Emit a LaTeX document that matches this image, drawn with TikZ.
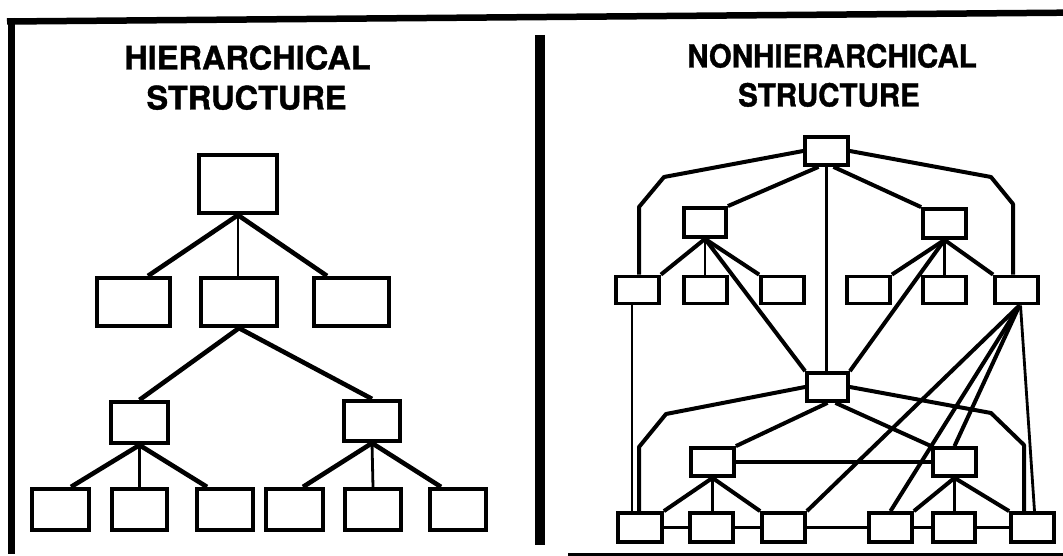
\documentclass[tikz,border=0pt]{standalone}
\usepackage{fontspec}
\setmainfont{TeX Gyre Heros}
\newfontfamily\ttlfont{TeX Gyre Heros}[BoldFeatures={FakeBold=1.2}]
\usetikzlibrary{calc}
\begin{document}
\begin{tikzpicture}[x=1pt,y=-1pt,
  bx/.style 2 args={draw, line width=4.2pt, inner sep=0pt, minimum width=#1, minimum height=#2},
  rb/.style 2 args={draw, line width=3.8pt, inner sep=0pt, minimum width=#1, minimum height=#2},
  thk/.style={line width=4.6pt, line join=round},
  rk/.style={line width=4pt, line join=round},
  thn/.style={line width=2.8pt},
  mid/.style={line width=3.3pt},
  ttl/.style={inner sep=0pt, font=\fontsize{32.5}{36}\ttlfont\bfseries},
  ttlr/.style={inner sep=0pt, font=\fontsize{29.5}{34}\ttlfont\bfseries}]
\useasboundingbox (0,0) rectangle (1063,556);

% frame
\draw[line width=6.5pt] (7,21.5) -- (1063,12.7);
\draw[line width=7pt] (11,18) -- (11,554);
\draw[line width=10pt] (540,35) -- (540,545);
\draw[line width=4pt] (568,555) -- (1063,555);

% titles
\node[ttl, anchor=base] (t1) at (247.5,69.5) {HIERARCHICAL};
\node[ttl, anchor=base] (t2) at (246.5,109.5) {STRUCTURE};
\node[ttlr, anchor=base] (t3) at (832,67.5) {\scalebox{1}[1.08]{NONHIERARCHICAL}};
\node[ttlr, anchor=base] (t4) at (829,106.5) {\scalebox{1}[1.08]{STRUCTURE}};

% ---------- hierarchical ----------
\node[bx={78pt}{58pt}] (h0) at (238,184) {};
\node[bx={73pt}{48pt}] (h1) at (133.5,302) {};
\node[bx={76pt}{48pt}] (h2) at (239,302) {};
\node[bx={75pt}{48pt}] (h3) at (351.5,302) {};
\node[bx={57pt}{41pt}] (h4) at (139.5,422.5) {};
\node[bx={56pt}{40pt}] (h5) at (372,421) {};
\node[bx={57pt}{41pt}] (h6) at (60.5,509.5) {};
\node[bx={55pt}{41pt}] (h7) at (139.5,509.5) {};
\node[bx={56pt}{41pt}] (h8) at (225,509.5) {};
\node[bx={57pt}{41pt}] (h9) at (294.5,509.5) {};
\node[bx={56pt}{41pt}] (h10) at (373,509.5) {};
\node[bx={56pt}{41pt}] (h11) at (458,509.5) {};

\draw[thk] (h0.south) -- ($(h1.north)+(14.5,0)$);
\draw[thn] (h0.south) -- (h0.south |- h2.north);
\draw[thk] (h0.south) -- ($(h3.north)+(-24.5,0)$);
\draw[thk] (h2.south) -- (h4.north);
\draw[thk] (h2.south) -- (h5.north);
\draw[thk] (h4.south) -- ($(h6.north)+(10.5,0)$);
\draw[thn] (h4.south) -- (h7.north);
\draw[thk] (h4.south) -- ($(h8.north)+(-18,0)$);
\draw[thk] (h5.south) -- ($(h9.north)+(8.5,0)$);
\draw[thn] (h5.south) -- (h10.north);
\draw[thk] (h5.south) -- ($(h11.north)+(-17,0)$);

% ---------- nonhierarchical ----------
\node[rb={43pt}{28pt}] (T) at (826.5,151) {};
\node[rb={42pt}{29pt}] (A) at (705,222.5) {};
\node[rb={43pt}{29pt}] (B) at (944.5,223.5) {};
\node[rb={43pt}{27pt}] (c1) at (637.5,290) {};
\node[rb={43pt}{27pt}] (c2) at (705.5,290) {};
\node[rb={43pt}{27pt}] (c3) at (782.5,290) {};
\node[rb={43pt}{27pt}] (c4) at (868.5,290) {};
\node[rb={43pt}{27pt}] (c5) at (944.5,290) {};
\node[rb={43pt}{27pt}] (c6) at (1016.5,290) {};
\node[rb={41pt}{28pt}] (M) at (827.5,387) {};
\node[rb={43pt}{28pt}] (D) at (712.5,462) {};
\node[rb={43pt}{28pt}] (E) at (954.5,462) {};
\node[rb={44pt}{29pt}] (d1) at (640,527.5) {};
\node[rb={43pt}{29pt}] (d2) at (711.5,527.5) {};
\node[rb={43pt}{29pt}] (d3) at (783.5,527.5) {};
\node[rb={43pt}{29pt}] (d4) at (890.5,527.5) {};
\node[rb={42pt}{29pt}] (d5) at (954,527.5) {};
\node[rb={43pt}{29pt}] (d6) at (1032.5,527.5) {};

\coordinate (ol1) at (664,177);
\coordinate (ol2) at (639,207);
\coordinate (or1) at (991,177);
\coordinate (or2) at (1013,204);
\coordinate (ml1) at (666,414);
\coordinate (ml2) at (639,447);
\coordinate (mr1) at (991,413);
\coordinate (mr2) at (1024,445);
\coordinate (c1s) at ($(c1.south)+(-5.5,0)$);
\coordinate (c6s) at ($(c6.south)+(3,0)$);

% outer paths
\draw[rk] (T.west) -- (ol1) -- (ol2) -- (ol2 |- c1.north);
\draw[rk] (T.east) -- (or1) -- (or2) -- (or2 |- c6.north);
\draw[rk] (M.west) -- (ml1) -- (ml2) -- (ml2 |- d1.north);
\draw[rk] (M.east) -- (mr1) -- (mr2) -- (mr2 |- d6.north);

% top level
\draw[rk] ($(T.south)+(-8,0)$) -- (A.north east);
\draw[rk] ($(T.south)+(7,0)$) -- (B.north west);
\draw[thn] (T.south) -- (T.south |- M.north);

% A and B children
\draw[rk] (A.south) -- (c1.north east);
\draw[thn] (A.south) -- (A.south |- c2.north);
\draw[rk] (A.south) -- (c3.north west);
\draw[rk] (A.south) -- (M.north west);
\draw[rk] (B.south) -- (c4.north east);
\draw[thn] (B.south) -- (B.south |- c5.north);
\draw[rk] (B.south) -- (c6.north west);
\draw[rk] (B.south) -- (M.north east);

% long verticals
\draw[thn] (c1s) -- (c1s |- d1.north);
\draw[thn] ($(c6.south)+(4,0)$) -- ($(d6.north)+(2,0)$);

% M children
\draw[rk] (M.south) -- (D.north east);
\draw[rk] ($(M.south)+(8,0)$) -- (E.north west);
\draw[mid] (D.east) -- (E.west);

% D and E children
\draw[rk] (D.south) -- (d1.north east);
\draw[thn] (D.south) -- (D.south |- d2.north);
\draw[rk] (D.south) -- (d3.north west);
\draw[rk] (E.south) -- (d4.north east);
\draw[thn] (E.south) -- (E.south |- d5.north);
\draw[rk] (E.south) -- (d6.north west);

% bottom chain
\draw[mid] (d1.east) -- (d2.west);
\draw[mid] (d2.east) -- (d3.west);
\draw[mid] (d3.east) -- (d4.west);
\draw[mid] (d4.east) -- (d5.west);
\draw[mid] (d5.east) -- (d6.west);

% fan from c6
\draw[rk] (c6s) -- (d3.north east);
\draw[rk] (c6s) -- (d4.north);
\draw[rk] (c6s) -- (E.north);
\end{tikzpicture}
\end{document}
